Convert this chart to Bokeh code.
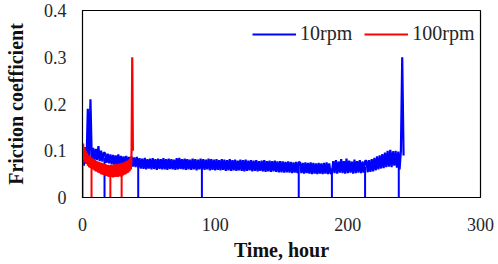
from bokeh.plotting import figure
from bokeh.models import Range1d, FixedTicker, Legend, LegendItem
from bokeh.embed import file_html
from bokeh.resources import INLINE

# ---- data ----
blue_label = "10rpm"
red_label = "100rpm"

blue_t = list(range(243))  # hours, 1 h sampling
blue_f = [
    0.115, 0.068, 0.108, 0.072, 0.19, 0.085, 0.21, 0.08, 0.106, 0.079,
    0.104, 0.08, 0.11, 0.078, 0.1, 0.077, 0.096, 0.095, 0.074, 0.094,
    0.073, 0.092, 0.071, 0.091, 0.07, 0.09, 0.07, 0.092, 0.069, 0.089,
    0.068, 0.088, 0.069, 0.089, 0.067, 0.087, 0.068, 0.088, 0.066, 0.086,
    0.065, 0.087, 0.064, 0.084, 0.062, 0.083, 0.061, 0.085, 0.06, 0.082,
    0.062, 0.083, 0.06, 0.084, 0.061, 0.082, 0.059, 0.083, 0.061, 0.082,
    0.06, 0.084, 0.06, 0.082, 0.059, 0.083, 0.061, 0.082, 0.06, 0.081,
    0.059, 0.084, 0.06, 0.085, 0.061, 0.082, 0.06, 0.083, 0.059, 0.082,
    0.06, 0.081, 0.059, 0.083, 0.06, 0.082, 0.058, 0.081, 0.06, 0.083,
    0.06, 0.082, 0.059, 0.081, 0.06, 0.083, 0.058, 0.082, 0.059, 0.081,
    0.058, 0.082, 0.059, 0.08, 0.058, 0.082, 0.059, 0.081, 0.057, 0.08,
    0.058, 0.082, 0.057, 0.08, 0.058, 0.081, 0.057, 0.079, 0.058, 0.081,
    0.057, 0.08, 0.056, 0.081, 0.057, 0.079, 0.058, 0.08, 0.056, 0.079,
    0.057, 0.08, 0.056, 0.078, 0.057, 0.079, 0.056, 0.08, 0.055, 0.078,
    0.056, 0.079, 0.055, 0.078, 0.056, 0.079, 0.055, 0.077, 0.054, 0.078,
    0.054, 0.077, 0.053, 0.076, 0.054, 0.077, 0.053, 0.076, 0.052, 0.075,
    0.053, 0.076, 0.052, 0.076, 0.075, 0.052, 0.074, 0.051, 0.075, 0.052,
    0.074, 0.051, 0.075, 0.05, 0.074, 0.051, 0.073, 0.05, 0.074, 0.051,
    0.073, 0.05, 0.074, 0.051, 0.075, 0.05, 0.073, 0.051, 0.052, 0.078,
    0.052, 0.08, 0.051, 0.077, 0.053, 0.082, 0.052, 0.078, 0.051, 0.083,
    0.052, 0.079, 0.053, 0.077, 0.051, 0.081, 0.052, 0.078, 0.053, 0.08,
    0.052, 0.077, 0.053, 0.078, 0.079, 0.054, 0.08, 0.055, 0.082, 0.056,
    0.085, 0.058, 0.088, 0.06, 0.09, 0.062, 0.093, 0.063, 0.096, 0.065,
    0.1, 0.066, 0.102, 0.065, 0.099, 0.068, 0.1, 0.064, 0.098, 0.06,
    0.1, 0.3, 0.09,
]
# instants where the 10rpm record drops to zero, and the level it drops from
blue_drop_t = [16.6, 42, 90, 163, 188, 213, 238.4]
blue_drop_f = [0.085, 0.075, 0.07, 0.065, 0.062, 0.065, 0.08]

red_t = [i * 0.5 for i in range(77)]  # hours, 0.5 h sampling
red_f = [
    0.11, 0.115, 0.08, 0.108, 0.075, 0.1, 0.072, 0.095, 0.068, 0.09,
    0.065, 0.088, 0.063, 0.086, 0.062, 0.084, 0.06, 0.082, 0.058, 0.08,
    0.056, 0.078, 0.055, 0.077, 0.053, 0.076, 0.052, 0.075, 0.05, 0.074,
    0.049, 0.073, 0.048, 0.072, 0.047, 0.071, 0.046, 0.07, 0.045, 0.07,
    0.044, 0.069, 0.045, 0.07, 0.044, 0.07, 0.043, 0.069, 0.044, 0.071,
    0.044, 0.07, 0.045, 0.072, 0.044, 0.071, 0.046, 0.073, 0.045, 0.047,
    0.074, 0.047, 0.075, 0.049, 0.076, 0.05, 0.078, 0.052, 0.079, 0.053,
    0.081, 0.056, 0.085, 0.06, 0.1, 0.3, 0.1,
]
# instants where the 100rpm record drops to zero, and the level it drops from
red_drop_t = [0, 6.8, 21, 29.5]
red_drop_f = [0.115, 0.075, 0.06, 0.06]

x_ticks = [0, 100, 200, 300]
y_ticks = [0, 0.1, 0.2, 0.3, 0.4]
y_tick_labels = ["0", "0.1", "0.2", "0.3", "0.4"]

FONT = "Liberation Serif"
BLUE = "#0000FF"
RED = "#FF0000"

p = figure(
    width=498, height=264,
    frame_width=398, frame_height=187,
    min_border_left=82, min_border_right=18,
    min_border_top=10, min_border_bottom=67,
    x_range=Range1d(0, 300), y_range=Range1d(0, 0.4),
    output_backend="svg", toolbar_location=None,
)

r_blue = p.line(blue_t, blue_f, line_color=BLUE, line_width=2.2)
p.segment(x0=blue_drop_t, y0=[0] * len(blue_drop_t), x1=blue_drop_t, y1=blue_drop_f,
          line_color=BLUE, line_width=2)
r_red = p.line(red_t, red_f, line_color=RED, line_width=2.2)
p.segment(x0=red_drop_t, y0=[0] * len(red_drop_t), x1=red_drop_t, y1=red_drop_f,
          line_color=RED, line_width=2)

p.xgrid.visible = False
p.ygrid.visible = False
p.outline_line_color = "black"
p.outline_line_width = 1.2
p.background_fill_color = "white"
p.border_fill_color = "white"

for ax in (p.xaxis[0], p.yaxis[0]):
    ax.major_tick_line_color = None
    ax.minor_tick_line_color = None
    ax.major_tick_out = 0
    ax.major_tick_in = 0
    ax.minor_tick_out = 0
    ax.minor_tick_in = 0
    ax.axis_line_color = "black"
    ax.major_label_text_font = FONT
    ax.major_label_text_font_size = "18px"
    ax.major_label_text_color = "#262626"
    ax.axis_label_text_font = FONT
    ax.axis_label_text_font_style = "bold"
    ax.axis_label_text_font_size = "20px"
    ax.axis_label_text_color = "#111111"

p.xaxis.ticker = FixedTicker(ticks=x_ticks)
p.yaxis.ticker = FixedTicker(ticks=y_ticks)
p.yaxis.major_label_overrides = {t: s for t, s in zip(y_ticks, y_tick_labels)}
p.xaxis.axis_label = "Time, hour"
p.yaxis.axis_label = "Friction coefficient"
p.xaxis.major_label_standoff = 20
p.yaxis.major_label_standoff = 16
p.xaxis.axis_label_standoff = 5
p.yaxis.axis_label_standoff = 14

legend = Legend(
    items=[LegendItem(label=blue_label, renderers=[r_blue]),
           LegendItem(label=red_label, renderers=[r_red])],
    orientation="horizontal",
    location=(170, 152),
    border_line_color=None,
    background_fill_alpha=0.0,
    label_text_font=FONT,
    label_text_font_size="20px",
    label_text_color="#262626",
    glyph_width=44,
    label_standoff=4,
    spacing=12,
    padding=0,
    margin=0,
)
p.add_layout(legend)

open("out.html", "w").write(file_html(p, INLINE))
